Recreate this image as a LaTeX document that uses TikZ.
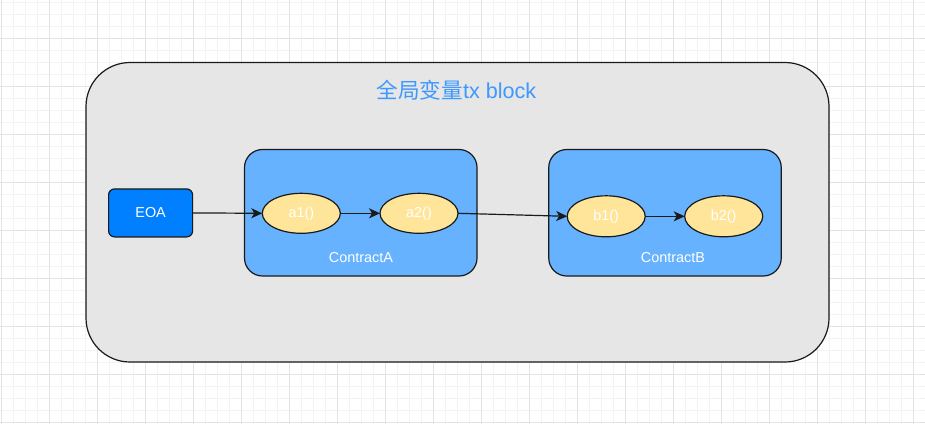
\documentclass[tikz,border=0pt]{standalone}
\usepackage{fontspec}
\setmainfont{Liberation Sans}
\newfontfamily\cjk{Noto Sans CJK SC}
\usetikzlibrary{arrows.meta,shapes.geometric}
\definecolor{gridmaj}{HTML}{E3E3E3}
\definecolor{gridmin}{HTML}{F3F3F3}
\definecolor{blkfill}{HTML}{E6E6E6}
\definecolor{eoafill}{HTML}{007FFF}
\definecolor{ctfill}{HTML}{66B2FF}
\definecolor{fnfill}{HTML}{FFE599}
\definecolor{titlecol}{HTML}{3D98FF}
\definecolor{edge}{HTML}{1A1A1A}
\tikzset{
  boxbase/.style={draw=edge, line width=1.2pt, inner sep=0pt, outer sep=0pt},
  blockbox/.style={boxbase, fill=blkfill, rounded corners=44pt},
  eoabox/.style={boxbase, fill=eoafill, rounded corners=6pt, text=white, font=\fontsize{14.4}{17}\selectfont},
  ctbox/.style={boxbase, fill=ctfill, rounded corners=18pt},
  fnnode/.style={boxbase, ellipse, fill=fnfill, minimum width=78pt, text=white, font=\fontsize{14.4}{17}\selectfont},
  ctlabel/.style={text=white, inner sep=0pt, font=\fontsize{14.4}{17}\selectfont},
  flow/.style={draw=edge, line width=1.2pt, -{Stealth[length=11pt,width=10pt,inset=3pt]}},
}
\begin{document}
\begin{tikzpicture}[x=1pt,y=-1pt]
\useasboundingbox (0,0) rectangle (925,424);
\fill[white] (0,0) rectangle (925,424);
% grid
\foreach \gx in {1,13,...,925} \draw[gridmin, line width=1pt] (\gx,0) -- (\gx,424);
\foreach \gy in {2,14,...,422} \draw[gridmin, line width=1pt] (0,\gy) -- (925,\gy);
\foreach \gx in {1,49,...,925} \draw[gridmaj, line width=1pt] (\gx,0) -- (\gx,424);
\foreach \gy in {38,86,...,422} \draw[gridmaj, line width=1pt] (0,\gy) -- (925,\gy);
% block
\node[blockbox, minimum width=743pt, minimum height=299.5pt] (blk) at (457.5,212.25) {};
\node[text=titlecol, inner sep=0pt, font=\fontsize{21.6}{25}\selectfont] (title) at (456.5,90) {{\cjk 全局变量}tx block};
% EOA
\node[eoabox, minimum width=84pt, minimum height=48pt] (eoa) at (150.6,212.9) {EOA};
% contracts
\node[ctbox, minimum width=232.5pt, minimum height=126.5pt] (ca) at (360.75,212.75) {};
\node[ctbox, minimum width=232.5pt, minimum height=126.5pt] (cb) at (665,212.75) {};
\node[ctlabel] (caL) at (361,258) {ContractA};
\node[ctlabel] (cbL) at (673,258) {ContractB};
% functions
\node[fnnode, minimum height=40pt] (a1) at (301.3,213.3) {a1()};
\node[fnnode, minimum height=40pt] (a2) at (419,213.3) {a2()};
\node[fnnode, minimum height=41pt] (b1) at (606.2,216.3) {b1()};
\node[fnnode, minimum height=41pt] (b2) at (723.7,216.3) {b2()};
% flows
\draw[flow] (eoa.east) -- (a1.west);
\draw[flow] (a1.east) -- (a2.west);
\draw[flow] (a2.east) -- (b1.west);
\draw[flow] (b1.east) -- (b2.west);
\end{tikzpicture}
\end{document}
